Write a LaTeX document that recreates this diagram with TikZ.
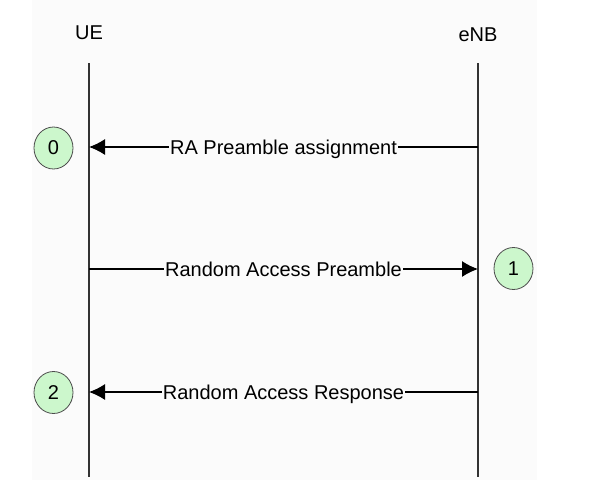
\documentclass[tikz,border=0pt]{standalone}
\usepackage{fontspec}
\setmainfont{Liberation Sans}
\usetikzlibrary{arrows.meta,shapes.geometric}
\definecolor{markgreen}{RGB}{204,247,204}
\definecolor{paper}{RGB}{251,251,251}

\begin{document}
\begin{tikzpicture}[x=1pt, y=-1pt,
        entity/.style={inner sep=0pt, font=\fontsize{20}{24}\selectfont},
        lifeline/.style={draw=black!80, line width=1.7pt},
        msg/.style={line width=1.3pt, -{Latex[length=16pt, width=16pt]}},
        msglabel/.style={fill=paper, inner sep=1pt, text height=14.3pt, text depth=0pt, font=\fontsize{20}{24}\selectfont},
        stepmark/.style={ellipse, draw=black!70, line width=0.8pt, fill=markgreen, minimum width=39pt, minimum height=42pt, inner sep=0pt, font=\fontsize{20}{24}\selectfont}]
        \useasboundingbox (0,0) rectangle (592,491);
        \fill[white] (0,0) rectangle (592,491);
        \fill[paper] (32,0) rectangle (537,480);

        \node[entity] (ue) at (89,33) {UE};
        \node[entity] (enb) at (478,35) {eNB};

        \coordinate (ueTop) at (89,63);
        \coordinate (ueBot) at (89,477);
        \coordinate (enbTop) at (478,63);
        \coordinate (enbBot) at (478,477);
        \draw[lifeline] (ueTop) -- (ueBot);
        \draw[lifeline] (enbTop) -- (enbBot);

        \coordinate (ue0) at (89,147);
        \coordinate (enb0) at (478,147);
        \coordinate (ue1) at (89,269);
        \coordinate (enb1) at (478,269);
        \coordinate (ue2) at (89,392);
        \coordinate (enb2) at (478,392);

        \node[stepmark] (m0) at (53.5,148) {0};
        \node[stepmark] (m1) at (513.5,268.5) {1};
        \node[stepmark] (m2) at (53.5,392.5) {2};

        \draw[msg] (enb0) -- node[msglabel] {RA Preamble assignment} (ue0);
        \draw[msg] (ue1) -- node[msglabel] {Random Access Preamble} (enb1);
        \draw[msg] (enb2) -- node[msglabel] {Random Access Response} (ue2);
    \end{tikzpicture}
\end{document}
